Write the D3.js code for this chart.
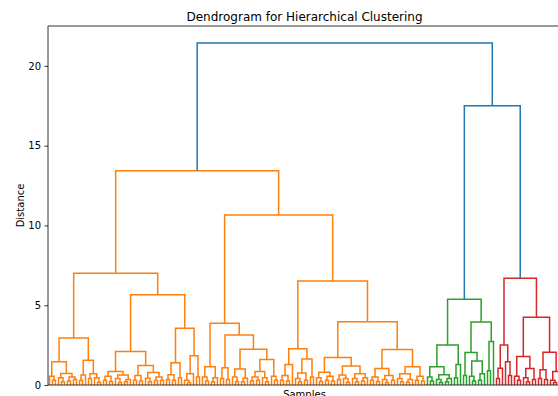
<!DOCTYPE html>
<html>
<head>
<meta charset="utf-8">
<script src="https://cdn.jsdelivr.net/npm/d3@7"></script>
<style>
  html, body { margin: 0; padding: 0; background: #fff; }
  svg { display: block; }
  text { font-family: "DejaVu Sans", sans-serif; fill: #000; }
</style>
</head>
<body>
<svg id="chart" width="558" height="396"></svg>
<script>
// ---------------- DATA ----------------
// Tree nodes: [mergeHeight, leftChild, rightChild]; a leaf sample is 0.
const title = "Dendrogram for Hierarchical Clustering";
const xLabel = "Samples";
const yLabel = "Distance";
const yTicks = [0, 5, 10, 15, 20];

// heights of the upper merges
const rootHeight = 21.43;
const orangeHeight = 13.43;
const rightHeight = 17.5;
const colorThreshold = 15.0;

const orangeLeft = [7.01,
  [2.95,
    [1.46, [0.55, 0, [0.3, 0, 0]], [0.72, [0.45, 0, [0.2, 0, 0]], [0.5, [0.25, 0, 0], [0.35, 0, 0]]]],
    [1.55, [0.62, [0.28, 0, 0], 0], [0.7, [0.4, 0, 0], [0.45, 0, [0.18, 0, 0]]]]
  ],
  [5.65,
    [2.1,
      [0.85, [0.55, [0.3, 0, 0], [0.22, 0, 0]], [0.62, [0.4, 0, [0.15, 0, 0]], [0.35, [0.2, 0, 0], 0]]],
      [1.22, [0.6, [0.3, 0, 0], [0.25, 0, 0]], [0.78, [0.42, 0, [0.2, 0, 0]], [0.5, [0.28, 0, 0], [0.3, 0, 0]]]]
    ],
    [3.56,
      [1.4, [0.65, [0.35, 0, 0], [0.3, 0, 0]], [0.45, 0, 0]],
      [1.83, [0.7, [0.3, 0, [0.15, 0, 0]], 0], [0.5, 0, 0]]
    ]
  ]
];

const orangeRight = [10.65,
  [3.87,
    [1.15, [0.5, 0, [0.25, 0, 0]], [0.45, [0.2, 0, 0], 0]],
    [3.14,
      [1.08, [0.4, 0, 0], [0.35, 0, 0]],
      [2.24,
        [1.0, [0.5, 0, [0.22, 0, 0]], [0.42, [0.2, 0, 0], 0]],
        [1.6, [0.85, [0.5, [0.25, 0, 0], [0.3, 0, 0]], [0.45, 0, [0.2, 0, 0]]], [0.55, 0, [0.3, 0, 0]]]
      ]
    ]
  ],
  [6.52,
    [2.27,
      [1.28, [0.6, [0.3, 0, 0], [0.25, 0, 0]], 0],
      [1.63, [0.75, [0.4, 0, [0.2, 0, 0]], [0.3, 0, 0]], [0.5, 0, 0]]
    ],
    [3.97,
      [1.73,
        [0.8, [0.45, 0, [0.22, 0, 0]], [0.55, [0.3, 0, 0], [0.25, 0, 0]]],
        [1.19, [0.62, [0.35, 0, 0], [0.4, 0, [0.18, 0, 0]]], [0.7, [0.4, 0, [0.2, 0, 0]], [0.45, [0.25, 0, 0], 0]]]
      ],
      [2.23,
        [1.04, [0.5, [0.3, 0, 0], [0.22, 0, 0]], [0.6, [0.35, 0, [0.15, 0, 0]], [0.3, 0, 0]]],
        [1.15, [0.7, [0.4, 0, [0.2, 0, 0]], [0.35, [0.18, 0, 0], 0]], [0.55, [0.3, 0, 0], [0.25, 0, 0]]]
      ]
    ]
  ]
];

const greenCluster = [5.37,
  [2.51,
    [1.15, [0.5, 0, [0.25, 0, 0]], [0.65, [0.35, 0, [0.15, 0, 0]], [0.4, [0.2, 0, 0], 0]]],
    [1.29, [0.45, 0, 0], 0]
  ],
  [3.95,
    [2.03, [0.6, 0, 0], [1.5, [0.55, 0, [0.25, 0, 0]], [0.7, [0.3, 0, 0], 0]]],
    [2.72, [0.9, 0, 0], 0]
  ]
];

const redCluster = [6.69,
  [2.51,
    [1.05, [0.4, 0, 0], 0],
    [1.46, 0, [0.6, 0, 0]]
  ],
  [4.24,
    [1.78, [0.55, 0, [0.3, 0, 0]], [1.04, [0.45, 0, [0.2, 0, 0]], [0.35, 0, 0]]],
    [2.05, [0.95, [0.4, 0, 0], [0.35, 0, 0]], [0.85, [0.3, 0, [0.15, 0, 0]], 0]]
  ]
];

const clusterColors = ["#ff7f0e", "#2ca02c", "#d62728"];
const aboveColor = "#1f77b4";

// ---------------- BUILD ----------------
const tree = [rootHeight, [orangeHeight, orangeLeft, orangeRight], [rightHeight, greenCluster, redCluster]];

let leafCount = 0;
let clusterIndex = 0;
const links = [];
function walk(node, color) {
  if (node === 0) return { x: leafCount++ + 0.5, h: 0 };
  const [h, l, r] = node;
  let c = color;
  if (h > colorThreshold) c = aboveColor;
  else if (c == null || c === aboveColor) c = clusterColors[clusterIndex++ % clusterColors.length];
  const a = walk(l, c === aboveColor ? null : c);
  const b = walk(r, c === aboveColor ? null : c);
  links.push({ x1: a.x, h1: a.h, x2: b.x, h2: b.h, h, color: c });
  return { x: (a.x + b.x) / 2, h };
}
walk(tree, null);

// ---------------- DRAW ----------------
const svg = d3.select("#chart");
const margin = { left: 48, top: 26, right: 561, bottom: 385 };
const x = d3.scaleLinear().domain([0, leafCount]).range([margin.left, margin.right]);
const y = d3.scaleLinear().domain([0, rootHeight * 1.05]).range([margin.bottom, margin.top]);

svg.append("rect").attr("width", 558).attr("height", 396).attr("fill", "#fff");

const g = svg.append("g");
g.selectAll("path.link")
  .data(links)
  .join("path")
  .attr("class", "link")
  .attr("fill", "none")
  .attr("stroke", d => d.color)
  .attr("stroke-width", 1.5)
  .attr("d", d => `M${x(d.x1)},${y(d.h1)}V${y(d.h)}H${x(d.x2)}V${y(d.h2)}`);

// axes
const yAxis = d3.axisLeft(y).tickValues(yTicks).tickSize(3.5).tickPadding(3.5).tickFormat(d3.format("d"));
const ya = svg.append("g").attr("transform", `translate(${margin.left},0)`).call(yAxis);
ya.select(".domain").remove();
ya.selectAll("line").attr("stroke", "#000").attr("stroke-width", 0.8);
ya.selectAll("text").attr("font-size", 10).attr("font-family", "DejaVu Sans").attr("fill", "#000");

// spines
const spine = svg.append("g").attr("fill", "none").attr("stroke", "#000").attr("stroke-width", 0.8);
spine.append("line").attr("x1", margin.left).attr("x2", margin.left).attr("y1", margin.top).attr("y2", margin.bottom);
spine.append("line").attr("x1", margin.left).attr("x2", margin.right).attr("y1", margin.top).attr("y2", margin.top);
spine.append("line").attr("x1", margin.left).attr("x2", margin.right).attr("y1", margin.bottom).attr("y2", margin.bottom);
spine.append("line").attr("x1", margin.right).attr("x2", margin.right).attr("y1", margin.top).attr("y2", margin.bottom);

// labels
svg.append("text").attr("x", (margin.left + margin.right) / 2).attr("y", 21)
  .attr("text-anchor", "middle").attr("font-size", 12).text(title);
svg.append("text").attr("x", (margin.left + margin.right) / 2).attr("y", 398)
  .attr("text-anchor", "middle").attr("font-size", 10).text(xLabel);
svg.append("text").attr("transform", `translate(24,${(margin.top + margin.bottom) / 2}) rotate(-90)`)
  .attr("text-anchor", "middle").attr("font-size", 10).text(yLabel);
</script>
</body>
</html>
